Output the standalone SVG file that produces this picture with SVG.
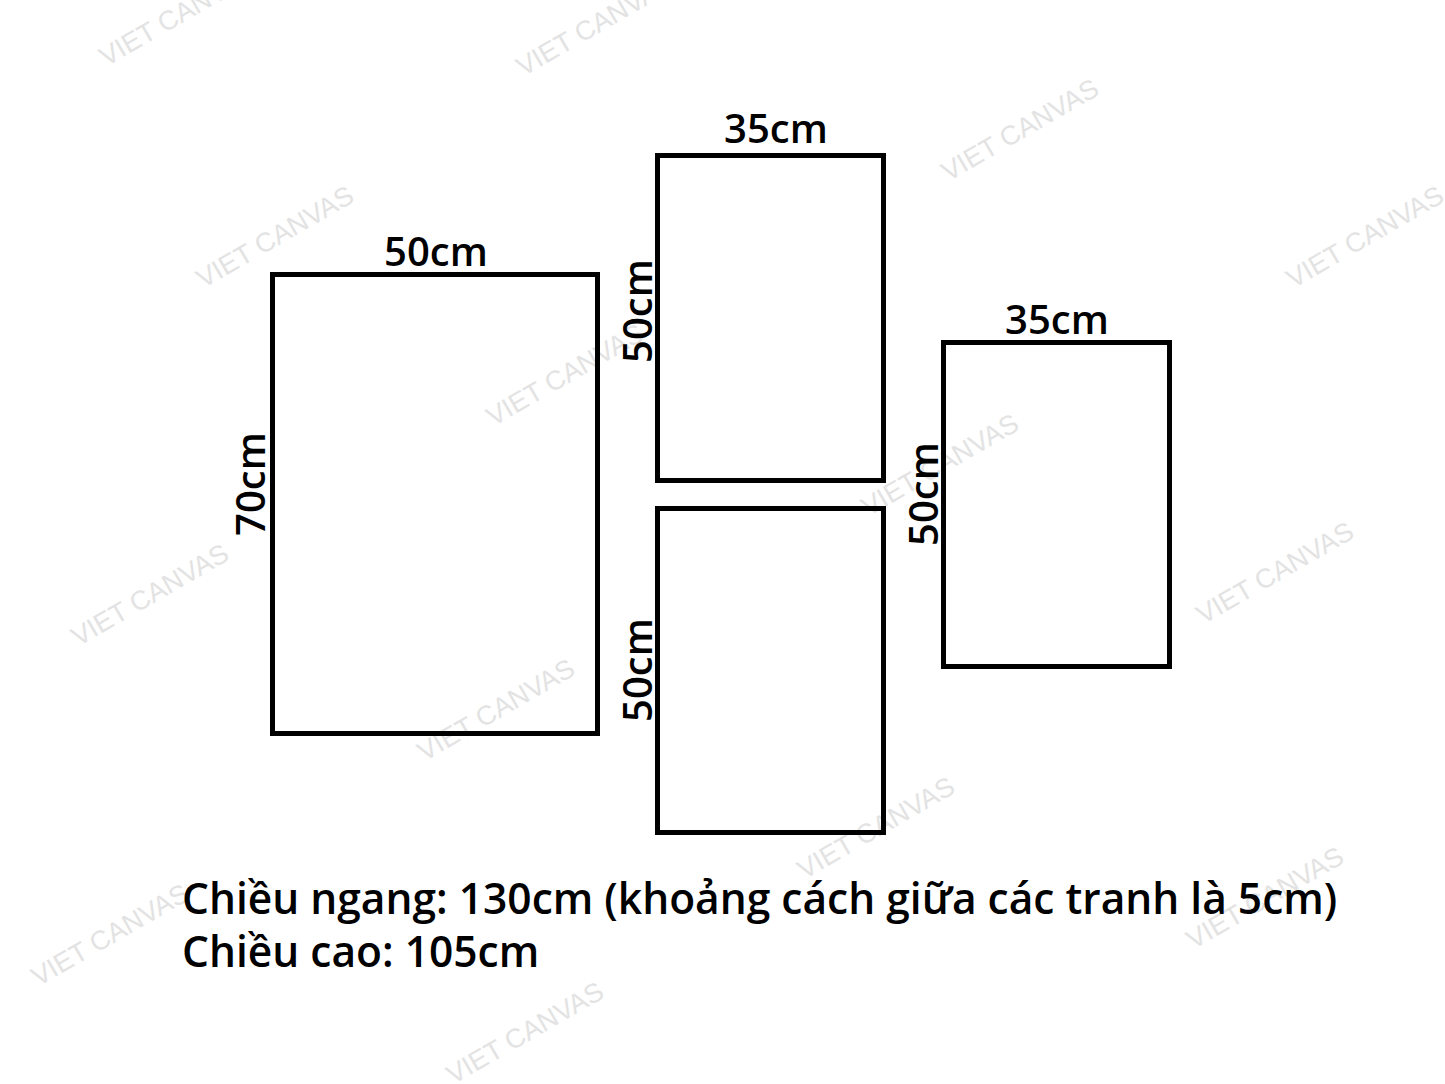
<svg xmlns="http://www.w3.org/2000/svg" width="1445" height="1084" viewBox="0 0 1445 1084">
<style>
.wm{font-family:"Liberation Sans",Arial,sans-serif;font-size:27px;fill:#e3e3e3;text-anchor:middle;dominant-baseline:central}
.frame{fill:none;stroke:#000;stroke-width:5}
.lbl{font-family:"Open Sans","Noto Sans",sans-serif;font-size:40px;font-weight:600;fill:#000;text-anchor:middle}
.note{font-family:"Open Sans","Noto Sans",sans-serif;font-size:42.5px;font-weight:600;fill:#000}
</style>
<rect width="1445" height="1084" fill="#fff"/>
<g id="watermarks">
<text class="wm" transform="translate(178,15) rotate(-30)">VIET CANVAS</text>
<text class="wm" transform="translate(595,25) rotate(-30)">VIET CANVAS</text>
<text class="wm" transform="translate(1020,130) rotate(-30)">VIET CANVAS</text>
<text class="wm" transform="translate(275,237) rotate(-30)">VIET CANVAS</text>
<text class="wm" transform="translate(1365,237) rotate(-30)">VIET CANVAS</text>
<text class="wm" transform="translate(565,375) rotate(-30)">VIET CANVAS</text>
<text class="wm" transform="translate(150,595) rotate(-30)">VIET CANVAS</text>
<text class="wm" transform="translate(940,465) rotate(-30)">VIET CANVAS</text>
<text class="wm" transform="translate(1275,573) rotate(-30)">VIET CANVAS</text>
<text class="wm" transform="translate(496,710) rotate(-30)">VIET CANVAS</text>
<text class="wm" transform="translate(876,828) rotate(-30)">VIET CANVAS</text>
<text class="wm" transform="translate(110,935) rotate(-30)">VIET CANVAS</text>
<text class="wm" transform="translate(1265,898) rotate(-30)">VIET CANVAS</text>
<text class="wm" transform="translate(525,1033) rotate(-30)">VIET CANVAS</text>
</g>
<g id="panel-left">
<rect class="frame" x="272.5" y="274.5" width="325" height="459"/>
<text class="lbl" x="436" y="266">50cm</text>
<text class="lbl" transform="translate(265,484) rotate(-90)">70cm</text>
</g>
<g id="panel-mid-top">
<rect class="frame" x="657.5" y="155.5" width="226" height="325"/>
<text class="lbl" x="776" y="143">35cm</text>
<text class="lbl" transform="translate(652,311) rotate(-90)">50cm</text>
</g>
<g id="panel-mid-bottom">
<rect class="frame" x="657.5" y="508.5" width="226" height="324"/>
<text class="lbl" transform="translate(652,670) rotate(-90)">50cm</text>
</g>
<g id="panel-right">
<rect class="frame" x="943.5" y="342.5" width="226" height="324"/>
<text class="lbl" x="1057" y="334">35cm</text>
<text class="lbl" transform="translate(938,494) rotate(-90)">50cm</text>
</g>
<g id="connectors"></g>
<g id="notes">
<text class="note" x="182" y="914">Chiều ngang: 130cm (khoảng cách giữa các tranh là 5cm)</text>
<text class="note" x="182" y="967">Chiều cao: 105cm</text>
</g>
</svg>
